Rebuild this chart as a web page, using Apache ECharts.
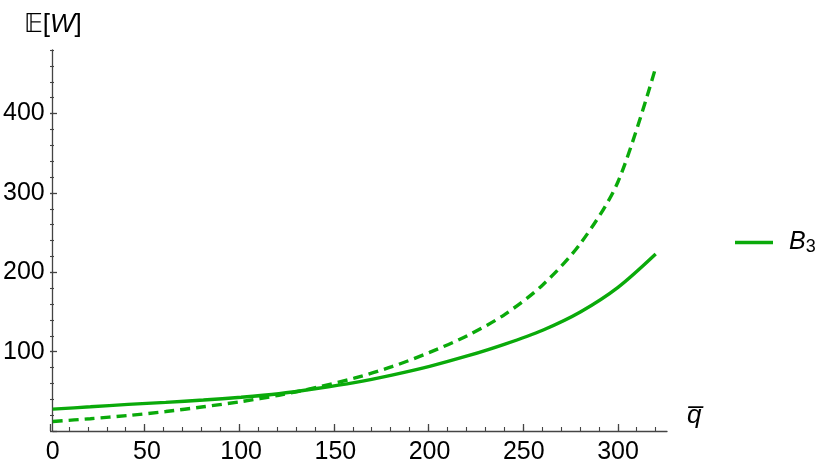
<!DOCTYPE html>
<html>
<head>
<meta charset="utf-8">
<script src="https://cdn.jsdelivr.net/npm/echarts@6/dist/echarts.min.js"></script>
<style>html,body{margin:0;padding:0;background:#fff;}#c{width:830px;height:475px;}</style>
</head>
<body>
<div id="c"></div>
<script>
const qValues = [0, 20, 40, 60, 80, 100, 120, 140, 160, 180, 200, 220, 240, 260, 280, 300, 320];
const solidB3 = [27.5, 30.5, 33.5, 36, 39, 42.5, 47, 53.5, 61, 70.5, 81.5, 94.5, 109.5, 127, 150, 181, 223];
const dashedB3 = [12, 15.5, 19.5, 24.5, 30.5, 37, 45, 55, 66.5, 81, 99, 120, 147, 184, 236, 314, 458];
const xTickLabels = [0, 50, 100, 150, 200, 250, 300];
const yTickLabels = [100, 200, 300, 400];

const GREEN = '#0aaa0a';
const AXIS = '#444';
const FONT = '"Liberation Sans", Arial, sans-serif';
const pxX = 617 / 326;
const pxY = 381 / 480;

const chart = echarts.init(document.getElementById('c'));
const hidden = {show: false};
const ghostLine = {show: true, onZero: false, lineStyle: {opacity: 0}};
chart.setOption({
  animation: false,
  textStyle: {fontFamily: FONT},
  grid: [
    {left: 50, width: 617, top: 50, height: 381},
    {left: 50, width: 300 * pxX, top: 431 - 400 * pxY, height: 400 * pxY},
    {left: 50, width: 320 * pxX, top: 50, height: 381}
  ],
  legend: {
    data: ['B3'],
    left: 730, top: 225,
    icon: 'rect',
    itemWidth: 38, itemHeight: 3.5,
    formatter: () => '{i|B}{s|3}',
    textStyle: {
      rich: {
        i: {fontStyle: 'italic', fontSize: 25, fontFamily: FONT, color: '#000', padding: [0, 0, 0, 11]},
        s: {fontSize: 18, fontFamily: FONT, color: '#000', padding: [10, 0, 0, 0]}
      }
    }
  },
  xAxis: [
    {
      gridIndex: 0, type: 'value', min: 0, max: 326, interval: 50,
      name: 'q\u0305', nameLocation: 'end', nameGap: 20,
      nameTextStyle: {fontStyle: 'italic', fontSize: 26, color: '#000', fontFamily: FONT, verticalAlign: 'bottom', padding: [0, 0, 2, 0]},
      axisLine: {onZero: false, lineStyle: {color: AXIS, width: 1.3}},
      axisTick: hidden,
      splitLine: hidden,
      axisLabel: {fontSize: 25, color: '#000', margin: 9, showMaxLabel: false,
        formatter: v => xTickLabels.includes(v) ? String(v) : ''}
    },
    {
      gridIndex: 1, type: 'value', min: 0, max: 300, interval: 50, position: 'bottom',
      axisLine: ghostLine, axisLabel: hidden, splitLine: hidden,
      axisTick: {show: true, inside: true, length: 7, lineStyle: {color: AXIS, width: 1.3}}
    },
    {
      gridIndex: 2, type: 'value', min: 0, max: 320, interval: 10, position: 'bottom',
      axisLine: ghostLine, axisLabel: hidden, splitLine: hidden,
      axisTick: {show: true, inside: true, length: 4, lineStyle: {color: AXIS, width: 1.1}}
    }
  ],
  yAxis: [
    {
      gridIndex: 0, type: 'value', min: 0, max: 480, interval: 100,
      name: '{e|\uD835\uDD3C[}{w|W}{e|]}', nameLocation: 'end', nameGap: 12,
      nameTextStyle: {
        align: 'center', verticalAlign: 'bottom',
        rich: {
          e: {fontSize: 26, color: '#000', fontFamily: FONT},
          w: {fontSize: 26, color: '#000', fontFamily: FONT, fontStyle: 'italic'}
        }
      },
      axisLine: {onZero: false, lineStyle: {color: AXIS, width: 1.3}},
      axisTick: hidden,
      splitLine: hidden,
      axisLabel: {fontSize: 25, color: '#000', margin: 8, showMaxLabel: false,
        formatter: v => yTickLabels.includes(v) ? String(v) : ''}
    },
    {
      gridIndex: 1, type: 'value', min: 0, max: 400, interval: 100, position: 'left',
      axisLine: ghostLine, axisLabel: hidden, splitLine: hidden,
      axisTick: {show: true, inside: true, length: 7, lineStyle: {color: AXIS, width: 1.3}}
    },
    {
      gridIndex: 2, type: 'value', min: 0, max: 480, interval: 20, position: 'left',
      axisLine: ghostLine, axisLabel: hidden, splitLine: hidden,
      axisTick: {show: true, inside: true, length: 4, lineStyle: {color: AXIS, width: 1.1}}
    }
  ],
  series: [
    {
      name: 'B3', type: 'line', xAxisIndex: 0, yAxisIndex: 0,
      data: qValues.map((q, i) => [q, solidB3[i]]),
      showSymbol: false, symbol: 'none', smooth: 0.3,
      lineStyle: {color: GREEN, width: 3.4}, itemStyle: {color: GREEN}
    },
    {
      name: 'B3 dashed', type: 'line', xAxisIndex: 0, yAxisIndex: 0,
      data: qValues.map((q, i) => [q, dashedB3[i]]),
      showSymbol: false, symbol: 'none', smooth: 0.3,
      lineStyle: {color: GREEN, width: 3.4, type: [10, 6]}, itemStyle: {color: GREEN}
    }
  ]
});
</script>
</body>
</html>
